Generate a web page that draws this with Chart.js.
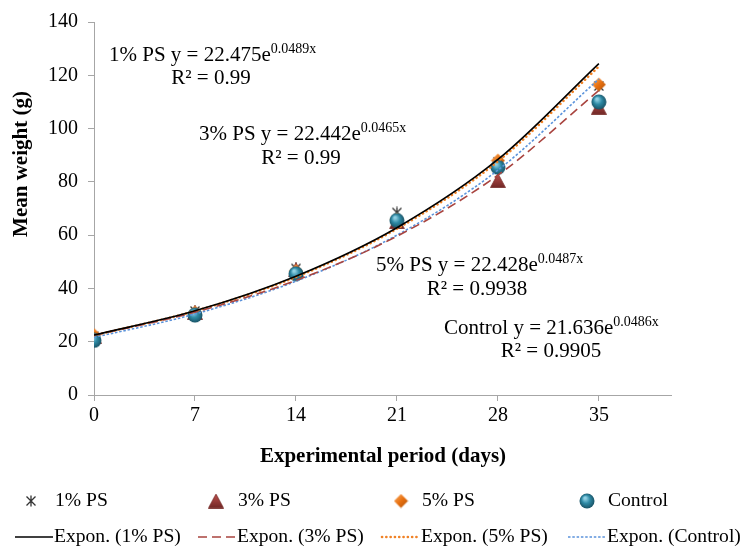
<!DOCTYPE html>
<html>
<head>
<meta charset="utf-8">
<script src="https://cdn.jsdelivr.net/npm/chart.js@4"></script>
<style>
  html, body { margin: 0; padding: 0; background: #fff; }
</style>
</head>
<body>
<canvas id="growthChart" width="741" height="548"></canvas>
<script>
const days = [0, 7, 14, 21, 28, 35];

// measured mean weights (g)
const ps1Weights = [22, 31.5, 47.5, 68.5, 87.5, 116];
const ps3Weights = [22, 31, 47, 65, 80.5, 108];
const ps5Weights = [22.5, 31, 46.5, 66, 88, 116.5];
const controlWeights = [20.5, 30, 45.5, 65.5, 85.5, 110];

// exponential trend lines at each sampling day
const ps1Trend = [22.5, 31.6, 44.6, 62.8, 88.4, 124.4];
const ps3Trend = [22.4, 31.1, 43.0, 59.6, 82.5, 114.3];
const ps5Trend = [22.4, 31.5, 44.3, 62.4, 87.7, 123.3];
const controlTrend = [21.6, 30.4, 42.7, 60.0, 84.4, 118.6];

const seriesNames = ["1% PS", "3% PS", "5% PS", "Control"];
const eqCoefs = ["22.475", "22.442", "22.428", "21.636"];
const eqPowers = ["0.0489", "0.0465", "0.0487", "0.0486"];
const eqR2 = ["0.99", "0.99", "0.9938", "0.9905"];

const xTickValues = [0, 7, 14, 21, 28, 35];
const xMax = 40;
const yMax = 140;
const yStep = 20;

const FONT = '"Liberation Serif", "Times New Roman", serif';
const axisGrey = "#A6A6A6";

const colors = {
  ps1: "#000000",
  ps3: "#A9443F",
  ps5: "#F08226",
  control: "#5B93DB",
};

function toPoints(values) {
  return days.map((d, i) => ({ x: d, y: values[i] }));
}

// marker images, roughly like the office-style 3D markers
function makeStar() {
  const c = document.createElement("canvas");
  c.width = 12; c.height = 12;
  const g = c.getContext("2d");
  g.strokeStyle = "#333";
  g.lineWidth = 1.3;
  g.beginPath();
  g.moveTo(1.5, 1.5); g.lineTo(10.5, 10.5);
  g.moveTo(10.5, 1.5); g.lineTo(1.5, 10.5);
  g.moveTo(6, 0.5); g.lineTo(6, 11.5);
  g.stroke();
  return c;
}

function makeTriangle() {
  const c = document.createElement("canvas");
  c.width = 16; c.height = 15;
  const g = c.getContext("2d");
  const grad = g.createLinearGradient(0, 0, 0, 15);
  grad.addColorStop(0, "#C0504D");
  grad.addColorStop(1, "#6E2624");
  g.fillStyle = grad;
  g.beginPath();
  g.moveTo(8, 0.5); g.lineTo(15.5, 14.5); g.lineTo(0.5, 14.5);
  g.closePath();
  g.fill();
  g.strokeStyle = "#7A2E2C";
  g.lineWidth = 0.8;
  g.stroke();
  return c;
}

function makeDiamond() {
  const c = document.createElement("canvas");
  c.width = 15; c.height = 15;
  const g = c.getContext("2d");
  const grad = g.createLinearGradient(0, 0, 15, 15);
  grad.addColorStop(0, "#FBB36E");
  grad.addColorStop(0.5, "#E8700F");
  grad.addColorStop(1, "#A9500A");
  g.fillStyle = grad;
  g.beginPath();
  g.moveTo(7.5, 0.5); g.lineTo(14.5, 7.5); g.lineTo(7.5, 14.5); g.lineTo(0.5, 7.5);
  g.closePath();
  g.fill();
  return c;
}

function makeBall() {
  const c = document.createElement("canvas");
  c.width = 16; c.height = 16;
  const g = c.getContext("2d");
  const grad = g.createRadialGradient(6, 5, 1, 8, 8, 8);
  grad.addColorStop(0, "#8FD0E3");
  grad.addColorStop(0.45, "#2F8AA5");
  grad.addColorStop(1, "#174E60");
  g.fillStyle = grad;
  g.beginPath();
  g.arc(8, 8, 7.5, 0, Math.PI * 2);
  g.fill();
  return c;
}

const markers = {
  ps1: makeStar(),
  ps3: makeTriangle(),
  ps5: makeDiamond(),
  control: makeBall(),
};

const trendStyles = {
  ps1: { color: colors.ps1, dash: [], width: 1.6, cap: "butt" },
  ps3: { color: colors.ps3, dash: [9, 5], width: 1.6, cap: "butt" },
  ps5: { color: colors.ps5, dash: [0.1, 4.2], width: 2.6, cap: "round" },
  control: { color: colors.control, dash: [2.5, 1.8], width: 1.6, cap: "butt" },
};

function trendDataset(values, key, order) {
  const s = trendStyles[key];
  return {
    data: toPoints(values),
    showLine: true,
    pointRadius: 0,
    borderColor: s.color,
    borderWidth: s.width,
    borderDash: s.dash,
    borderCapStyle: s.cap,
    cubicInterpolationMode: "monotone",
    order: order,
  };
}

function markerDataset(values, key, order) {
  return {
    data: toPoints(values),
    showLine: false,
    pointStyle: markers[key],
    pointRadius: 7,
    order: order,
  };
}

const annotationPlugin = {
  id: "annotations",
  afterDraw(chart) {
    const ctx = chart.ctx;
    ctx.save();
    ctx.fillStyle = "#000";
    ctx.textBaseline = "middle";

    // axis titles
    ctx.font = "bold 21px " + FONT;
    ctx.textAlign = "center";
    ctx.fillText("Experimental period (days)", 383, 457);
    ctx.save();
    ctx.translate(22, 164);
    ctx.rotate(-Math.PI / 2);
    ctx.fillText("Mean weight (g)", 0, 0);
    ctx.restore();

    // trend line equations
    const eqPos = [
      { x: 109, y: 55, rx: 211, ry: 78 },
      { x: 199, y: 134, rx: 301, ry: 158 },
      { x: 376, y: 265, rx: 477, ry: 289 },
      { x: 444, y: 328, rx: 551, ry: 351 },
    ];
    seriesNames.forEach((name, i) => {
      const p = eqPos[i];
      const main = name + " y = " + eqCoefs[i] + "e";
      ctx.textAlign = "left";
      ctx.font = "21px " + FONT;
      ctx.fillText(main, p.x, p.y);
      const w = ctx.measureText(main).width;
      ctx.font = "14px " + FONT;
      ctx.fillText(eqPowers[i] + "x", p.x + w, p.y - 6);
      ctx.textAlign = "center";
      ctx.font = "21px " + FONT;
      ctx.fillText("R\u00B2 = " + eqR2[i], p.rx, p.ry);
    });

    // legend
    const keys = ["ps1", "ps3", "ps5", "control"];
    const markerX = [31, 216, 401, 587];
    const textX = [55, 238, 422, 608];
    const row1 = 501;
    const row2 = 537;
    ctx.textAlign = "left";
    ctx.font = "19.6px " + FONT;
    keys.forEach((key, i) => {
      const img = markers[key];
      ctx.drawImage(img, markerX[i] - img.width / 2, row1 - img.height / 2);
      ctx.fillText(seriesNames[i], textX[i], row1);

      const s = trendStyles[key];
      const lx = textX[i] - 40;
      ctx.save();
      ctx.strokeStyle = s.color;
      ctx.lineWidth = s.width;
      ctx.setLineDash(s.dash);
      ctx.lineCap = s.cap;
      ctx.beginPath();
      ctx.moveTo(lx, row2);
      ctx.lineTo(lx + 38, row2);
      ctx.stroke();
      ctx.restore();
      ctx.fillText("Expon. (" + seriesNames[i] + ")", textX[i] - 1, row2);
    });

    ctx.restore();
  },
};

const growthChart = new Chart(document.getElementById("growthChart"), {
  type: "scatter",
  data: {
    datasets: [
      trendDataset(ps1Trend, "ps1", 0),
      trendDataset(ps3Trend, "ps3", 1),
      trendDataset(ps5Trend, "ps5", 2),
      trendDataset(controlTrend, "control", 3),
      markerDataset(controlWeights, "control", 4),
      markerDataset(ps5Weights, "ps5", 5),
      markerDataset(ps3Weights, "ps3", 6),
      markerDataset(ps1Weights, "ps1", 7),
    ],
  },
  options: {
    responsive: false,
    animation: false,
    devicePixelRatio: 1,
    layout: {
      padding: { top: 18, right: 70, left: 0, bottom: 0 },
    },
    plugins: {
      legend: { display: false },
      tooltip: { enabled: false },
    },
    scales: {
      x: {
        type: "linear",
        min: 0,
        max: xMax,
        afterBuildTicks: (scale) => {
          scale.ticks = xTickValues.map((v) => ({ value: v }));
        },
        afterFit: (scale) => {
          scale.height = 153;
        },
        ticks: {
          color: "#000",
          font: { family: FONT, size: 20 },
          padding: 3,
          maxRotation: 0,
        },
        grid: {
          drawOnChartArea: false,
          tickLength: 6,
          color: axisGrey,
        },
        border: { color: axisGrey },
      },
      y: {
        min: 0,
        max: yMax,
        afterFit: (scale) => {
          scale.width = 94;
        },
        ticks: {
          stepSize: yStep,
          color: "#000",
          font: { family: FONT, size: 20 },
          padding: 10,
        },
        grid: {
          drawOnChartArea: false,
          tickLength: 6,
          color: axisGrey,
        },
        border: { color: axisGrey },
      },
    },
  },
  plugins: [annotationPlugin],
});
</script>
</body>
</html>
